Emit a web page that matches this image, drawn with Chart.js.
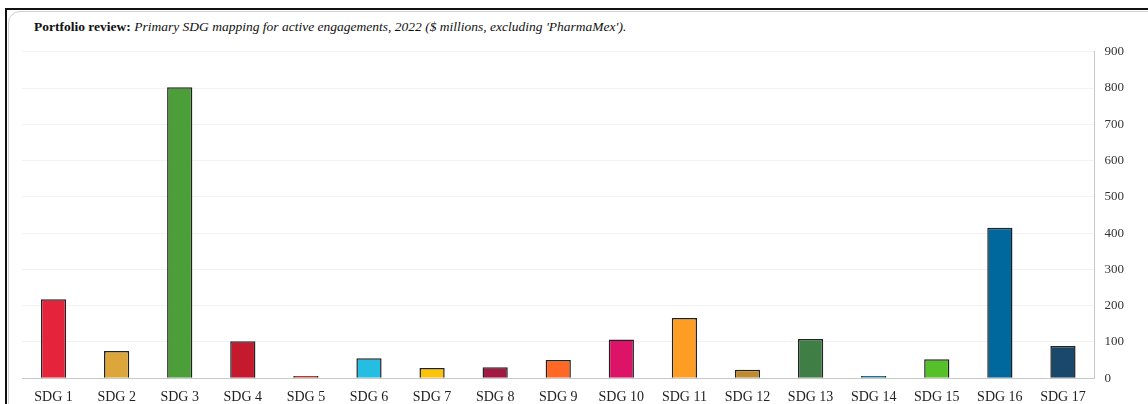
<!DOCTYPE html>
<html>
<head>
<meta charset="utf-8">
<script src="https://cdn.jsdelivr.net/npm/chart.js@4"></script>
<style>
  html, body { margin: 0; padding: 0; background: #fff; overflow: hidden; }
  body { width: 1148px; height: 404px; position: relative; }
  .frame {
    position: absolute; left: 5px; top: 8px; width: 1170px; height: 430px;
    border: 2px solid #111; box-sizing: border-box;
  }
  .card {
    position: absolute; left: 1px; top: 1px; right: 1px; bottom: 1px;
    border: 1px solid #d0d0d0; border-radius: 12px;
  }
  .title {
    position: absolute; left: 34px; top: 19px;
    font-family: "Liberation Serif", serif;
    font-size: 13.5px; color: #111; white-space: nowrap;
  }
  .title b { font-weight: bold; }
  .title i { font-style: italic; }
  .chart-box { position: absolute; left: 10px; top: 34px; width: 1138px; height: 375px; }
</style>
</head>
<body>
<div class="frame"><div class="card"></div></div>
<div class="title"><b>Portfolio review:</b> <i>Primary SDG mapping for active engagements, 2022 ($ millions, excluding 'PharmaMex').</i></div>
<div class="chart-box"><canvas id="sdgChart"></canvas></div>
<script>
// 類別與數值
const categories = ['SDG 1', 'SDG 2', 'SDG 3', 'SDG 4', 'SDG 5', 'SDG 6', 'SDG 7', 'SDG 8', 'SDG 9',
                    'SDG 10', 'SDG 11', 'SDG 12', 'SDG 13', 'SDG 14', 'SDG 15', 'SDG 16', 'SDG 17'];
const values = [218, 75, 802, 102, 6, 55, 28, 30, 50, 107, 166, 23, 108, 6, 52, 415, 89];
const sdgColors = ['#E5243B', '#DDA63A', '#4C9F38', '#C5192D', '#FF3A21', '#26BDE2', '#FCC30B', '#A21942', '#FD6925',
                   '#DD1367', '#FD9D24', '#BF8B2E', '#3F7E44', '#0A97D9', '#56C02B', '#00689D', '#19486A'];
const yTicks = [0, 100, 200, 300, 400, 500, 600, 700, 800, 900];

const serif = '"Liberation Serif", serif';
const ctx = document.getElementById('sdgChart').getContext('2d');

const sdgChart = new Chart(ctx, {
    type: 'bar',
    data: {
        labels: categories,
        datasets: [{
            data: values,
            backgroundColor: sdgColors,
            borderColor: '#222',
            borderWidth: 1.5,
            categoryPercentage: 0.8,
            barPercentage: 0.5
        }]
    },
    options: {
        responsive: true,
        maintainAspectRatio: false,
        animation: false,
        layout: { padding: { left: 12, right: 14, top: 8, bottom: 0 } },
        plugins: {
            legend: { display: false },
            tooltip: { enabled: false }
        },
        scales: {
            x: {
                grid: { display: false },
                border: { color: '#c8c8c8', width: 1 },
                ticks: { color: '#222', font: { family: serif, size: 14 }, maxRotation: 0, autoSkip: false, padding: 3 }
            },
            y: {
                position: 'right',
                min: 0,
                max: yTicks[yTicks.length - 1],
                afterBuildTicks: axis => { axis.ticks = yTicks.map(v => ({ value: v })); },
                grid: { color: '#f2f2f2', drawTicks: false },
                border: { color: '#c8c8c8', width: 1 },
                ticks: { color: '#333', font: { family: serif, size: 13 }, padding: 10 }
            }
        }
    }
});
</script>
</body>
</html>
